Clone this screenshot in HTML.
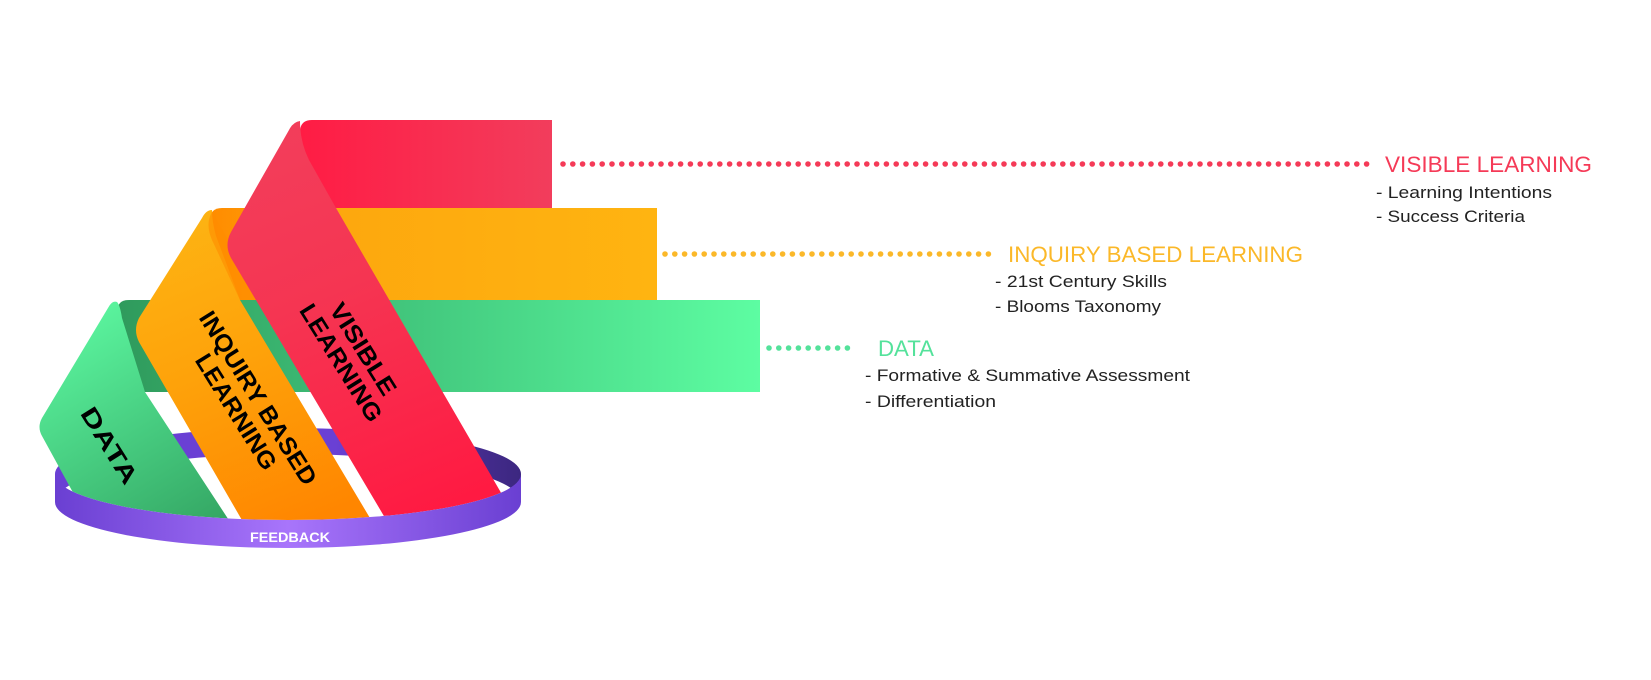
<!DOCTYPE html>
<html><head><meta charset="utf-8"><style>
html,body{margin:0;padding:0;background:#fff;}
svg{display:block;}
</style></head><body>
<svg width="1651" height="680" viewBox="0 0 1651 680" xmlns="http://www.w3.org/2000/svg" font-family="'Liberation Sans', sans-serif">
<defs>
<linearGradient id="gRed" x1="0" x2="1" y1="0" y2="0"><stop offset="0" stop-color="#ff1c44"/><stop offset="1" stop-color="#f23d5c"/></linearGradient>
<linearGradient id="gOr" x1="0" x2="1"><stop offset="0" stop-color="#ff8c00"/><stop offset="0.3" stop-color="#fda80e"/><stop offset="1" stop-color="#ffb411"/></linearGradient>
<linearGradient id="gGr" x1="0" x2="1"><stop offset="0" stop-color="#2f9a5c"/><stop offset="0.35" stop-color="#3dbd76"/><stop offset="1" stop-color="#5dfda2"/></linearGradient>
<linearGradient id="sRed" x1="0" y1="0" x2="0.3" y2="1"><stop offset="0" stop-color="#f23f5c"/><stop offset="0.45" stop-color="#f53552"/><stop offset="1" stop-color="#ff1a42"/></linearGradient>
<linearGradient id="sOr" x1="0" y1="0" x2="0.3" y2="1"><stop offset="0" stop-color="#fdb614"/><stop offset="0.5" stop-color="#fea20a"/><stop offset="1" stop-color="#ff8600"/></linearGradient>
<linearGradient id="sGr" x1="0" y1="0" x2="0.5" y2="1"><stop offset="0" stop-color="#60ffa6"/><stop offset="1" stop-color="#35a865"/></linearGradient>
<linearGradient id="ring" x1="0" x2="1"><stop offset="0" stop-color="#6a3fd2"/><stop offset="0.5" stop-color="#a875fb"/><stop offset="1" stop-color="#6a3fd2"/></linearGradient>
<linearGradient id="ringBack" x1="0" x2="1"><stop offset="0" stop-color="#6a40d4"/><stop offset="0.6" stop-color="#6a40d4"/><stop offset="0.85" stop-color="#4a2f98"/><stop offset="1" stop-color="#3c2780"/></linearGradient>
<clipPath id="clipS"><rect x="0" y="0" width="800" height="474"/><ellipse cx="288" cy="474" rx="233" ry="46"/></clipPath>
</defs>

<!-- ring back inner wall -->
<path d="M55 474 A233 46 0 0 1 521 474 L521 502 A233 48 0 0 0 55 502 Z" fill="url(#ringBack)"/>

<!-- horizontal bars -->
<path d="M312 120 H552 V208 H300 V132 Q300 120 312 120 Z" fill="url(#gRed)"/>
<path d="M222 208 H657 V300 H210 V220 Q210 208 222 208 Z" fill="url(#gOr)"/>
<path d="M129 300 H760 V392 H117 V312 Q117 300 129 300 Z" fill="url(#gGr)"/>

<g clip-path="url(#clipS)">
<path d="M117 302 Q112 300 108 308 L42 418 Q37 427 42 436 L110 560 L255 560 L145 392 L122 318 Q120 305 117 302 Z" fill="url(#sGr)"/>
<path d="M212 210 Q206 210 202 218 L139 318 Q133 330 139 342 L265 560 L395 560 L240 300 L216 236 Q212 222 212 210 Z" fill="url(#sOr)"/>
<path d="M212 212 Q205 224 212 240 L240 300 L262 300 L228 240 Z" fill="#ff8c00" opacity="0.6"/>
<path d="M300 121 Q293 122 289 130 L231 232 Q224 245 231 258 L410 560 L540 560 L336 208 L309 160 Q300 142 300 121 Z" fill="url(#sRed)"/>
</g>

<!-- ring front band -->
<path d="M55 474 A233 46 0 0 0 521 474 L521 502 A233 46 0 0 1 55 502 Z" fill="url(#ring)"/>
<text x="290" y="542" font-size="14" font-weight="bold" fill="#fff" text-anchor="middle" textLength="80" lengthAdjust="spacingAndGlyphs">FEEDBACK</text>

<g font-weight="bold" fill="#000" font-size="24">
<g transform="translate(352,356) rotate(58)">
<text x="0" y="-5" text-anchor="middle" textLength="104" lengthAdjust="spacingAndGlyphs">VISIBLE</text>
<text x="0" y="21" text-anchor="middle" textLength="134" lengthAdjust="spacingAndGlyphs">LEARNING</text>
</g>
<g transform="translate(247,405) rotate(58)">
<text x="0" y="-5" text-anchor="middle" textLength="200" lengthAdjust="spacingAndGlyphs">INQUIRY BASED</text>
<text x="0" y="21" text-anchor="middle" textLength="132" lengthAdjust="spacingAndGlyphs">LEARNING</text>
</g>
<g transform="translate(110,445) rotate(58)">
<text x="0" y="9" text-anchor="middle" textLength="86" lengthAdjust="spacingAndGlyphs">DATA</text>
</g>
</g>

<line x1="563" y1="164" x2="1369" y2="164" stroke="#f53a57" stroke-width="5.6" stroke-linecap="round" stroke-dasharray="0 9.8"/>
<line x1="665" y1="254" x2="993" y2="254" stroke="#fbb829" stroke-width="5.6" stroke-linecap="round" stroke-dasharray="0 9.8"/>
<line x1="769" y1="348" x2="857" y2="348" stroke="#54e29b" stroke-width="5.6" stroke-linecap="round" stroke-dasharray="0 9.8"/>

<text x="1385" y="172" font-size="22" fill="#f53a57" textLength="207" lengthAdjust="spacingAndGlyphs">VISIBLE LEARNING</text>
<text x="1376" y="198" font-size="17" fill="#222" textLength="176" lengthAdjust="spacingAndGlyphs">- Learning Intentions</text>
<text x="1376" y="222" font-size="17" fill="#222" textLength="149" lengthAdjust="spacingAndGlyphs">- Success Criteria</text>

<text x="1008" y="262" font-size="22" fill="#fbb829" textLength="295" lengthAdjust="spacingAndGlyphs">INQUIRY BASED LEARNING</text>
<text x="995" y="287" font-size="17" fill="#222" textLength="172" lengthAdjust="spacingAndGlyphs">- 21st Century Skills</text>
<text x="995" y="312" font-size="17" fill="#222" textLength="166" lengthAdjust="spacingAndGlyphs">- Blooms Taxonomy</text>

<text x="878" y="356" font-size="22" fill="#54e29b" textLength="56" lengthAdjust="spacingAndGlyphs">DATA</text>
<text x="865" y="381" font-size="17" fill="#222" textLength="325" lengthAdjust="spacingAndGlyphs">- Formative &amp; Summative Assessment</text>
<text x="865" y="407" font-size="17" fill="#222" textLength="131" lengthAdjust="spacingAndGlyphs">- Differentiation</text>
</svg>
</body></html>
